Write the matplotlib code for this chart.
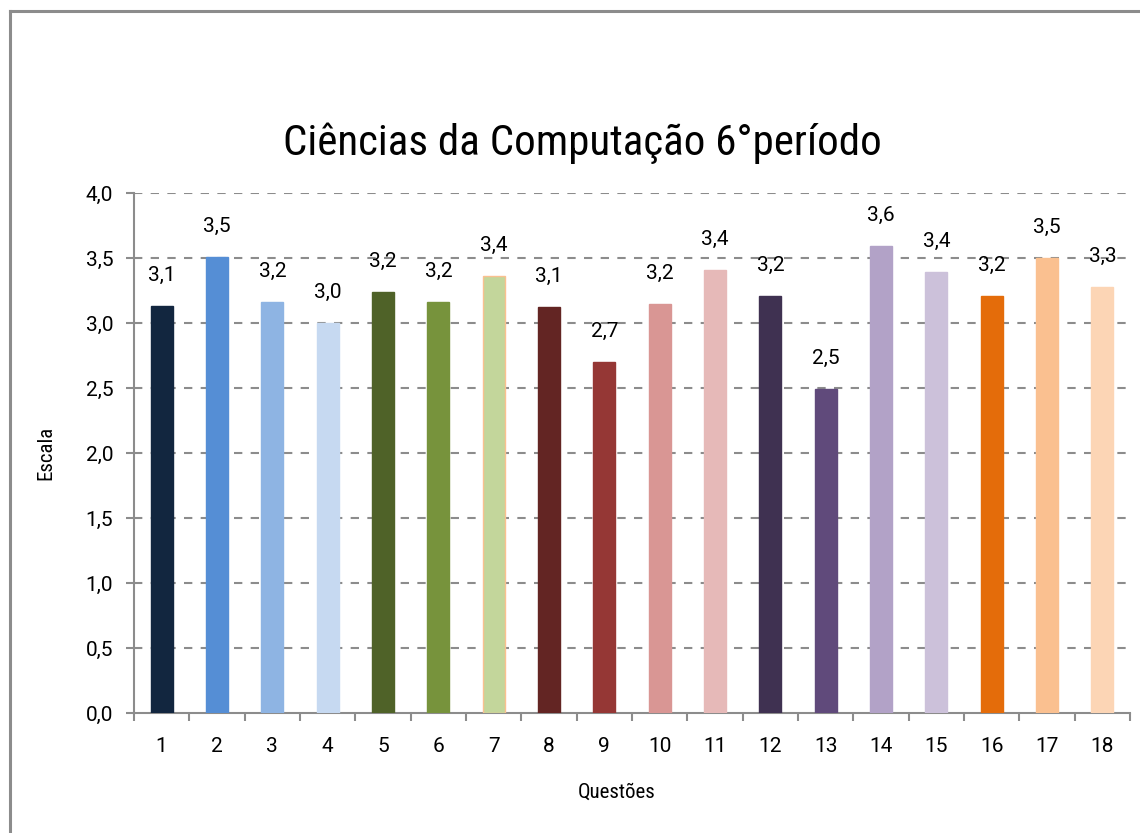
import matplotlib
matplotlib.use("Agg")
import matplotlib.pyplot as plt
from matplotlib.lines import Line2D

plt.rcParams['font.family'] = ['Roboto Condensed', 'DejaVu Sans']
numeros = ['Roboto', 'DejaVu Sans']

# Data
questoes = list(range(1, 19))
medias = [3.13, 3.51, 3.16, 3.00, 3.24, 3.16, 3.36, 3.12, 2.70,
          3.15, 3.41, 3.21, 2.49, 3.59, 3.39, 3.21, 3.50, 3.28]
rotulos = ['3,1', '3,5', '3,2', '3,0', '3,2', '3,2', '3,4', '3,1', '2,7',
           '3,2', '3,4', '3,2', '2,5', '3,6', '3,4', '3,2', '3,5', '3,3']
cores = ['#12263f', '#558ed5', '#8eb4e3', '#c6d9f1', '#4f6228', '#77933c',
         '#c3d69b', '#632523', '#953735', '#d99694', '#e6b9b8', '#3f3151',
         '#604a7b', '#b2a2c7', '#ccc1da', '#e46c0a', '#fac090', '#fcd5b5']
y_ticks = [0.0, 0.5, 1.0, 1.5, 2.0, 2.5, 3.0, 3.5, 4.0]

cinza = '#8c8c8c'

fig = plt.figure(figsize=(11.4, 8.33), dpi=100)
ax = fig.add_axes([134 / 1140, 120 / 833, 996 / 1140, 520 / 833])

# Outer chart frame (left and top edges only visible)
fig.add_artist(Line2D([10 / 1140, 10 / 1140], [0, 1 - 11 / 833],
                      transform=fig.transFigure, color=cinza, lw=2.2))
fig.add_artist(Line2D([10 / 1140, 1], [1 - 11 / 833, 1 - 11 / 833],
                      transform=fig.transFigure, color=cinza, lw=2.2))

bordas = list(cores)
bordas[6] = '#fac090'
bars = ax.bar(questoes, medias, width=0.4, color=cores, edgecolor=bordas,
              linewidth=1, zorder=3)

for b, txt in zip(bars, rotulos):
    ax.annotate(txt, (b.get_x() + b.get_width() / 2, b.get_height()),
                xytext=(0, 22), textcoords='offset points',
                ha='center', va='center', fontsize=15, family=numeros, zorder=4)

ax.set_xlim(0.5, 18.5)
ax.set_ylim(0, 4)

# gridlines
for v in y_ticks[1:]:
    ax.axhline(v, color=cinza, lw=1.5, ls=(0, (4, 4)), zorder=1)

ax.set_yticks(y_ticks)
ax.set_yticklabels([f'{v:.1f}'.replace('.', ',') for v in y_ticks],
                   fontsize=15, family=numeros)
ax.set_xticks([q + 0.5 for q in range(0, 19)])
ax.set_xticklabels([])
ax.set_xticks(questoes, minor=True)
ax.set_xticklabels([str(q) for q in questoes], minor=True, fontsize=15, family=numeros)
ax.tick_params(axis='x', which='major', length=6, color=cinza, width=1.5, direction='out')
ax.tick_params(axis='x', which='minor', length=0, pad=17)
ax.tick_params(axis='y', length=6, color=cinza, width=1.5, pad=9)

for s in ['top', 'right']:
    ax.spines[s].set_visible(False)
for s in ['left', 'bottom']:
    ax.spines[s].set_color(cinza)
    ax.spines[s].set_linewidth(1.5)

ax.set_xlabel('Questões', fontsize=15)
ax.xaxis.set_label_coords(0.485, -0.135)
ax.set_ylabel('Escala', fontsize=15, labelpad=22)

fig.text(582 / 1140, 1 - 143 / 833, 'Ciências da Computação 6°período',
         ha='center', va='center', fontsize=31)

fig.savefig('out.png', dpi=100, facecolor='white')
